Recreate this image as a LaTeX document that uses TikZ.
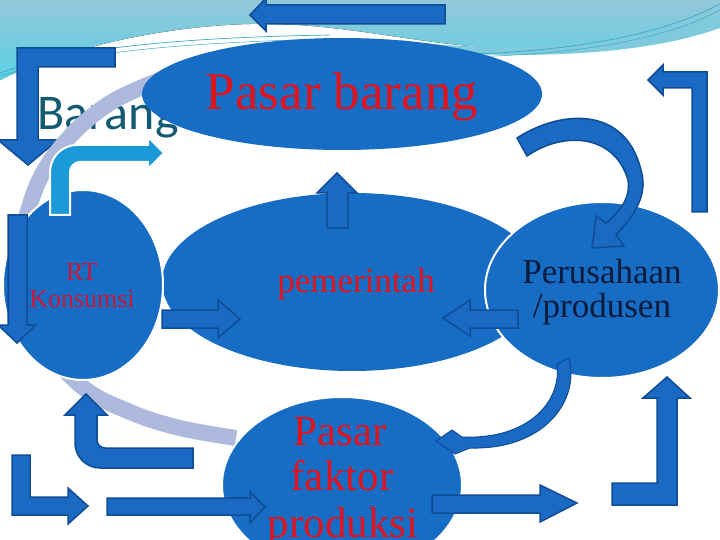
\documentclass[tikz,border=0pt]{standalone}
\usepackage{fontspec}
\setmainfont{Liberation Serif}
\newfontfamily\carl{Carlito}
\usetikzlibrary{shapes.geometric}
\definecolor{ellblue}{HTML}{176CC4}
\definecolor{arrfill}{HTML}{1A69C2}
\definecolor{arredge}{HTML}{0E4C96}
\definecolor{cyanarr}{HTML}{1A9BD7}
\definecolor{lav}{HTML}{AEBADD}
\definecolor{redtxt}{HTML}{E0141E}
\definecolor{crim}{HTML}{C8183A}
\definecolor{navy}{HTML}{0B1B3D}
\definecolor{tealtxt}{HTML}{135B72}
\definecolor{bgtop}{HTML}{93C7DA}
\definecolor{bgbot}{HTML}{5BD0E3}
\definecolor{bgband}{HTML}{7FCBDD}
\definecolor{thinc}{HTML}{3AA9C4}
\begin{document}
\begin{tikzpicture}[x=1pt,y=-1pt,
  ell/.style={ellipse, fill=ellblue, inner sep=0pt, outer sep=0pt},
  wb/.style={draw=white, line width=2pt},
  blk/.style={fill=arrfill, draw=arredge, line width=1.5pt, line join=miter},
  lbl/.style={anchor=base, inner sep=0pt, align=center},
  thinline/.style={draw=thinc, line width=0.7pt}]
\useasboundingbox (0,0) rectangle (720,540);
\clip (0,0) rectangle (720,540);
\fill[white] (0,0) rectangle (720,540);
% background wave
\fill[top color=bgtop, bottom color=bgbot] (0,0) -- (720,0) -- (720,25)
  .. controls (640,55) and (540,52) .. (470,46)
  .. controls (400,40) and (330,22) .. (250,24)
  .. controls (160,26) and (60,50) .. (0,80) -- cycle;
\fill[bgband] (400,40) .. controls (500,55) and (640,45) .. (720,15) -- (720,28)
  .. controls (640,57) and (520,58) .. (430,52) -- cycle;
\draw[thinline] (0,73) .. controls (60,52) and (150,38) .. (330,35);
\draw[thinline, line width=0.5pt] (0,76) .. controls (70,55) and (160,43) .. (330,39);
\draw[thinline] (410,55) .. controls (560,56) and (660,36) .. (720,4);
\draw[thinline, line width=0.5pt] (430,57) .. controls (570,58) and (665,40) .. (720,10);
% top arrow
\filldraw[blk] (445,5) -- (266,5) -- (266,-2) -- (250,15) -- (266,31) -- (266,24) -- (445,24) -- cycle;
% text Barang
\node[anchor=base west, inner sep=0pt, text=tealtxt, font=\carl\fontsize{50}{50}\selectfont] (barang) at (37,130) {Barang};
% top-left L arrow
\filldraw[blk] (17,48) -- (115,48) -- (115,67) -- (38,67) -- (38,140) -- (58,140) -- (28,165) -- (-2,140) -- (17,140) -- cycle;
% lavender arc
\draw[lav, line width=16pt] plot[smooth, tension=0.6] coordinates {(165,78) (110,103) (65,142) (35,190) (20,260) (35,330) (80,385) (130,412) (180,428) (236,438)};
% ellipses
\node[ell, minimum width=400pt, minimum height=112pt] (pb) at (342,94) {};
\node[ell, minimum width=380pt, minimum height=178pt] (pem) at (352,282) {};
\node[ell, wb, minimum width=160pt, minimum height=190pt] (rt) at (83,285) {};
\node[ell, wb, minimum width=234pt, minimum height=176pt] (per) at (602,290) {};
\node[ell, wb, minimum width=240pt, minimum height=176pt] (pf) at (342,485) {};
% cyan bent arrow
\filldraw[fill=cyanarr, draw=white, line width=2pt] (50,215) -- (50,172)
  arc[start angle=180, end angle=90, radius=27pt] -- (148,145) -- (148,137) -- (164,153) -- (148,169) -- (148,162) -- (80,162)
  arc[start angle=90, end angle=180, radius=10pt] -- (70,215) -- cycle;
% left down arrow over RT
\filldraw[blk] (8,215) -- (27,215) -- (27,325) -- (36,325) -- (17,343) -- (-2,325) -- (8,325) -- cycle;
% texts
\node[lbl, text=redtxt, font=\fontsize{53}{53}\selectfont] (tpb) at (342,110) {Pasar barang};
\node[lbl, text=crim, font=\fontsize{26}{26}\selectfont] (trt1) at (82,280) {RT};
\node[lbl, text=crim, font=\fontsize{26}{26}\selectfont] (trt2) at (82,307) {Konsumsi};
\node[lbl, text=redtxt, font=\fontsize{35}{35}\selectfont] (tpem) at (356,292) {pemerintah};
\node[lbl, text=navy, font=\fontsize{35}{35}\selectfont] (tper1) at (602,283) {Perusahaan};
\node[lbl, text=navy, font=\fontsize{35}{35}\selectfont] (tper2) at (602,317) {/produsen};
\node[lbl, text=redtxt, font=\fontsize{43}{43}\selectfont] (tpf1) at (340,445) {Pasar};
\node[lbl, text=redtxt, font=\fontsize{43}{43}\selectfont] (tpf2) at (342,490) {faktor};
\node[lbl, text=redtxt, font=\fontsize{43}{43}\selectfont] (tpf3) at (343,537) {produksi};
% up arrow to Pasar barang
\filldraw[blk] (327,228) -- (327,193) -- (317,193) -- (337,173) -- (357,193) -- (348,193) -- (348,228) -- cycle;
% RT -> pemerintah
\filldraw[blk] (162,310) -- (218,310) -- (218,300) -- (240,319) -- (218,338) -- (218,328) -- (162,328) -- cycle;
% Perusahaan -> pemerintah
\filldraw[blk] (518,310) -- (470,310) -- (470,300) -- (443,318) -- (470,336) -- (470,328) -- (518,328) -- cycle;
% curved arrow Pasar barang -> Perusahaan
\filldraw[blk] (517,138) -- (527,156) .. controls (565,130) and (615,135) .. (628,180)
  .. controls (631,197) and (620,212) .. (606,223) -- (596,216) -- (592,248) -- (624,246) -- (616,235)
  .. controls (640,210) and (647,190) .. (641,170)
  .. controls (625,105) and (560,110) .. (517,138) -- cycle;
% curved arrow Perusahaan -> Pasar faktor
\filldraw[blk, line width=1pt] (557,364) -- (569,358) .. controls (580,400) and (545,450) .. (470,448)
  -- (455,454) -- (436,441) -- (452,430) -- (462,437)
  .. controls (530,440) and (562,400) .. (557,364) -- cycle;
% top-right L arrow
\filldraw[blk] (707,72) -- (707,212) -- (692,212) -- (692,88) -- (663,88) -- (663,95) -- (648,80) -- (663,65) -- (663,72) -- cycle;
% bottom-left bent up arrow
\filldraw[blk] (193,468) -- (100,468) arc[start angle=270, end angle=180, radius=25pt] -- (75,415) -- (65,415) -- (86,394) -- (107,415) -- (97,415) -- (97,440)
  arc[start angle=180, end angle=270, radius=8pt] -- (193,448) -- cycle;
% bottom-left L arrow
\filldraw[blk] (12,455) -- (30,455) -- (30,497) -- (68,497) -- (68,488) -- (88,506) -- (68,524) -- (68,515) -- (12,515) -- cycle;
% long right arrow
\filldraw[blk] (107,498) -- (250,498) -- (250,492) -- (265,507) -- (250,523) -- (250,515) -- (107,515) -- cycle;
% bottom right arrow
\filldraw[blk] (432,495) -- (540,495) -- (540,485) -- (577,503) -- (540,522) -- (540,513) -- (432,513) -- cycle;
% bottom-right L arrow up
\filldraw[blk] (612,483) -- (657,483) -- (657,398) -- (643,398) -- (667,377) -- (690,398) -- (677,398) -- (677,505) -- (612,505) -- cycle;
\end{tikzpicture}
\end{document}
